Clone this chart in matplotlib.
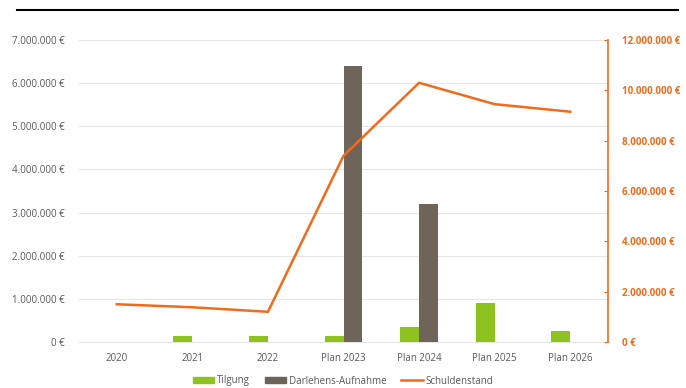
import matplotlib
matplotlib.use("Agg")
import matplotlib.pyplot as plt
from matplotlib.lines import Line2D
from matplotlib.ticker import FuncFormatter, MultipleLocator
import numpy as np

categories = ["2020", "2021", "2022", "Plan 2023", "Plan 2024", "Plan 2025", "Plan 2026"]
tilgung = [0, 140000, 140000, 130000, 350000, 900000, 250000]
darlehen = [0, 0, 0, 6400000, 3200000, 0, 0]
schuldenstand = [1500000, 1380000, 1200000, 7400000, 10300000, 9450000, 9150000]

GREEN = "#8DC21F"
BROWN = "#6E6558"
ORANGE = "#F26A1B"
GREY = "#595959"

plt.rcParams['font.family'] = ['Open Sans', 'DejaVu Sans']

fig = plt.figure(figsize=(6.86, 3.88), dpi=100)
W, H = 686, 388
ax = fig.add_axes([79 / W, 1 - 342 / H, (608 - 79) / W, (342 - 40) / H])
ax2 = ax.twinx()

x = np.arange(len(categories))
bw = 0.25
ax.bar(x - bw / 2, tilgung, bw, color=GREEN, label="Tilgung", zorder=3)
ax.bar(x + bw / 2, darlehen, bw, color=BROWN, label="Darlehens-Aufnahme", zorder=3)
ax2.plot(x, schuldenstand, color=ORANGE, lw=1.8, label="Schuldenstand")

ax.set_xlim(-0.5, len(categories) - 0.5)
ax.set_ylim(0, 7000000)
ax2.set_ylim(0, 12000000)
ax.yaxis.set_major_locator(MultipleLocator(1000000))
ax2.yaxis.set_major_locator(MultipleLocator(2000000))

def fmt(v, pos):
    return f"{int(round(v)):,} €".replace(",", ".")

ax.yaxis.set_major_formatter(FuncFormatter(fmt))
ax2.yaxis.set_major_formatter(FuncFormatter(fmt))

ax.set_xticks(x)
ax.set_xticklabels(categories)
ax.grid(axis="y", color="#E6E6E6", lw=0.8, zorder=0)
ax.set_axisbelow(True)

for a in (ax, ax2):
    for s in ("top", "left", "bottom", "right"):
        a.spines[s].set_visible(False)
ax.spines["bottom"].set_visible(True)
ax.spines["bottom"].set_color("#E6E6E6")
ax2.spines["right"].set_visible(True)
ax2.spines["right"].set_color(ORANGE)
ax2.spines["right"].set_linewidth(1.2)

ax.tick_params(axis="y", length=0, labelsize=7, labelcolor=GREY, pad=10)
ax.tick_params(axis="x", length=0, labelsize=7, labelcolor=GREY, pad=8)
ax2.tick_params(axis="y", direction="in", length=3, color=ORANGE, labelsize=7,
                labelcolor=ORANGE, pad=10)
for t in ax2.get_yticklabels():
    t.set_fontweight("bold")

handles = [
    plt.Rectangle((0, 0), 1, 1, color=GREEN),
    plt.Rectangle((0, 0), 1, 1, color=BROWN),
    Line2D([0], [0], color=ORANGE, lw=1.8),
]
labels = ["Tilgung", "Darlehens-Aufnahme", "Schuldenstand"]
leg = fig.legend(handles, labels, loc="center", bbox_to_anchor=(343 / W, 1 - 381 / H),
                 ncol=3, frameon=False, fontsize=7, handlelength=2.2, handleheight=0.5,
                 columnspacing=1.5, handletextpad=0.3)
for t in leg.get_texts():
    t.set_color(GREY)

fig.add_artist(Line2D([17 / W, 678 / W], [1 - 10 / H, 1 - 10 / H], color="black", lw=1.5,
                      transform=fig.transFigure))

fig.savefig("out.png", dpi=100)
